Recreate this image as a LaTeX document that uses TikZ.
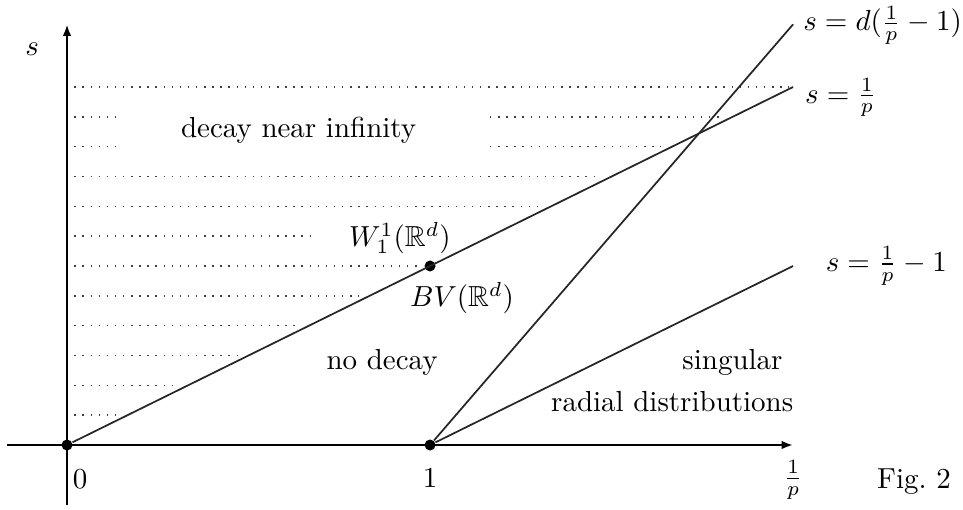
\documentclass[tikz,border=0pt]{standalone}
\usepackage{amsmath,amssymb}
\usepackage{tikz}
\usetikzlibrary{arrows.meta}

\begin{document}
\begin{tikzpicture}[x=4.403cm, y=2.171cm,
    axis/.style={line width=1pt, -{Latex[length=4pt,width=3pt]}},
    bd/.style={line width=0.6pt, black!85},
    hatch/.style={line width=0.5pt, dash pattern=on 0.5pt off 2.3pt, black!75},
    pt/.style={circle, fill=black, inner sep=0pt, minimum size=3.8pt}
]
\useasboundingbox (-0.1846,-0.3575) rectangle (2.468,2.486);

% dotted region above s=1/p
\foreach \k in {1,2,3,4,5,6,8,9}
    \draw[hatch] (0.02,\k/6) -- (\k/6-0.03,\k/6);
\draw[hatch] (0.02,2) -- (1.99,2);
\draw[hatch] (0.02,7/6) -- (0.67,7/6);
\foreach \k in {10,11} {
    \draw[hatch] (0.02,\k/6) -- (0.15,\k/6);
    \draw[hatch] (1.165,\k/6) -- (\k/6-0.03,\k/6);
}

% axes
\coordinate (xl) at (-0.165,0);
\coordinate (xr) at (2.0,0);
\coordinate (yb) at (0,-0.335);
\coordinate (yt) at (0,2.35);
\draw[axis] (xl) -- (xr);
\draw[axis] (yb) -- (yt);

% points
\node[pt] (O) at (0,0) {};
\node[pt] (A) at (1,0) {};
\node[pt] (B) at (1,1) {};

% boundary lines
\coordinate (Ep) at (2,2);
\coordinate (Ed) at (2,2.35);
\coordinate (Em) at (2,1);
\draw[bd] (O) -- (Ep);
\draw[bd] (A) -- (Ed);
\draw[bd] (A) -- (Em);

\node[anchor=west] (ld) at (2.0,2.345) {$s=d(\frac{1}{p}-1)$};
\node[anchor=west] (lp) at (2.005,1.94) {$s=\frac{1}{p}$};
\node[anchor=west] (lm) at (2.062,1.0) {$s=\frac{1}{p}-1$};

% axis labels
\node (ls) at (-0.096,2.212) {$s$};
\node (l0) at (0.036,-0.19) {$0$};
\node (l1) at (1,-0.187) {$1$};
\node (lx) at (2.0,-0.196) {$\frac{1}{p}$};
\node (fig) at (2.333,-0.205) {Fig.~2};

% regions
\node (inf) at (0.638,1.76) {decay near infinity};
\node (W) at (0.917,1.156) {$W^1_1(\mathbb{R}^d)$};
\node (BV) at (1.088,0.821) {$BV(\mathbb{R}^d)$};
\node (nod) at (0.868,0.46) {no decay};
\node (sing) at (1.833,0.46) {singular};
\node (rad) at (1.667,0.24) {radial distributions};
\end{tikzpicture}
\end{document}
